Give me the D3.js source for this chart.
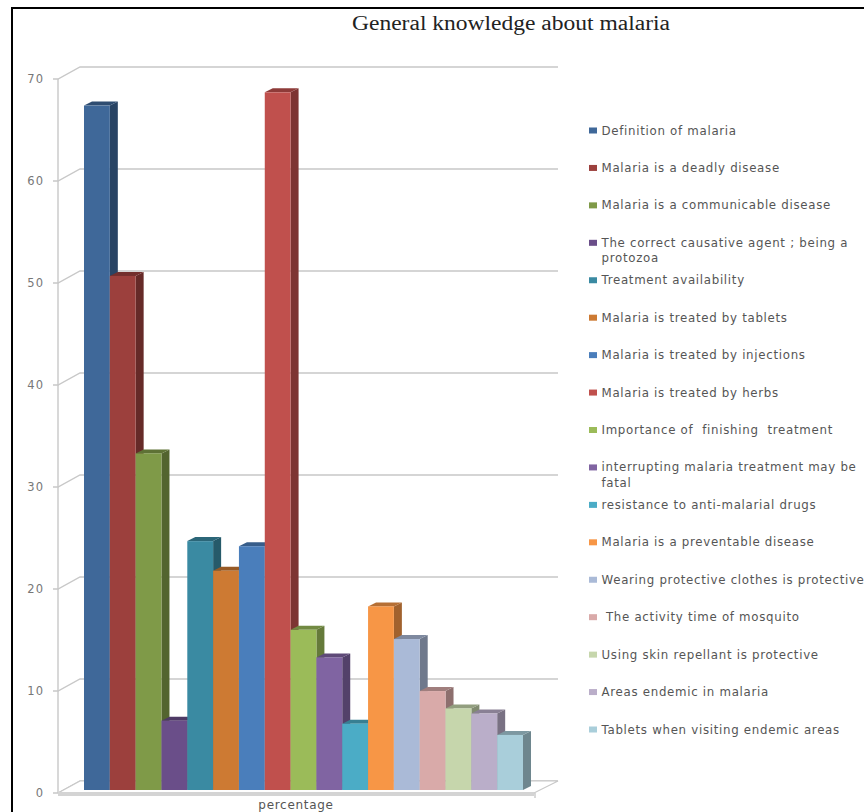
<!DOCTYPE html>
<html>
<head>
<meta charset="utf-8">
<script src="https://cdn.jsdelivr.net/npm/d3@7/dist/d3.min.js"></script>
<style>
  html, body { margin: 0; padding: 0; background: #fff; }
  svg { display: block; }
  .legend-label, .axis-name { font-family: "DejaVu Sans", sans-serif; fill: #555; letter-spacing: 0.7px; }
  .tick-label { font-family: "DejaVu Sans", sans-serif; fill: #777; letter-spacing: 1px; }
</style>
</head>
<body>
<svg id="chart" width="864" height="812"></svg>
<script>
// General knowledge about malaria: one group of 3D-styled columns
const chartTitle = "General knowledge about malaria";
const axisName = "percentage";
const categories = [
  "Definition of malaria",
  "Malaria is a deadly disease",
  "Malaria is a communicable disease",
  "The correct causative agent ; being a|protozoa",
  "Treatment availability",
  "Malaria is treated by tablets",
  "Malaria is treated by injections",
  "Malaria is treated by herbs",
  "Importance of  finishing  treatment",
  "interrupting malaria treatment may be|fatal",
  "resistance to anti-malarial drugs",
  "Malaria is a preventable disease",
  "Wearing protective clothes is protective",
  " The activity time of mosquito",
  "Using skin repellant is protective",
  "Areas endemic in malaria",
  "Tablets when visiting endemic areas"
];
const percentages = [67.1, 50.4, 33.0, 6.8, 24.4, 21.5, 23.9, 68.4, 15.7, 13.0, 6.5, 18.0, 14.8, 9.7, 8.0, 7.5, 5.4];
const yTicks = [0, 10, 20, 30, 40, 50, 60, 70];
const palette = ["#3f6899", "#9c403d", "#7f9a48", "#6a4e89", "#3a8aa2", "#cd7a33", "#4a7ebb", "#c0504d",
                 "#9bbb59", "#8064a2", "#4bacc6", "#f79646", "#aabad7", "#d9aaa9", "#c6d6ac", "#baaec9", "#a9ceda"];

const svg = d3.select("#chart");
const x0 = 58, x1 = 536, frontBase = 793, frontTop = 79;
const dx = 22, dy = -12;         // depth of the chart box
const barDx = 8, barDy = -4;     // depth of each column

const y = d3.scaleLinear().domain([0, 70]).range([frontBase, frontTop]);
const x = d3.scaleBand().domain(d3.range(categories.length)).range([84, 523]).paddingInner(0);
const barBase = y(0) - 3;
const barY = v => barBase - (y(0) - y(v));

// Picture frame
svg.append("path").attr("d", "M12,812V8H864").attr("fill", "none").attr("stroke", "#000").attr("stroke-width", 2);

// Title, set wide across its 318px run
svg.append("text").attr("x", 352).attr("y", 30)
  .attr("textLength", 318).attr("lengthAdjust", "spacingAndGlyphs")
  .attr("font-family", "'Liberation Serif', serif").attr("font-size", 20).attr("fill", "#222").text(chartTitle);

// Back-wall gridlines with their diagonal side-wall returns
const grid = svg.append("g").attr("stroke", "#c8c8c8").attr("fill", "none").attr("stroke-width", 1.4);
yTicks.forEach(t => {
  grid.append("path").attr("d", `M${x0 - 5},${y(t)}H${x0}L${x0 + dx},${y(t) + dy}H${x1 + dx}`);
});
grid.append("line").attr("x1", x0).attr("x2", x0).attr("y1", y(0)).attr("y2", y(70));

// Floor
svg.append("path")
  .attr("d", `M${x0},${y(0)}H${x1 - 2}L${x1 + dx},${y(0) + dy}H${x0 + dx}Z`)
  .attr("fill", "#fff").attr("stroke", "#c8c8c8").attr("stroke-width", 1.2);
svg.append("line").attr("x1", x0).attr("x2", x1 - 2).attr("y1", y(0) + 1).attr("y2", y(0) + 1)
  .attr("stroke", "#d4d4d4").attr("stroke-width", 4);
svg.append("line").attr("x1", x1 - 1).attr("x2", x1 - 1).attr("y1", y(0)).attr("y2", y(0) + 5)
  .attr("stroke", "#c0c0c0").attr("stroke-width", 1.2);

// Value labels
svg.append("g").selectAll("text").data(yTicks).join("text")
  .attr("class", "tick-label").attr("x", 44).attr("y", d => y(d) + 4)
  .attr("text-anchor", "end").attr("font-size", 11.5).text(d => d);

// Columns: side face, top face, then front face, left to right
const bars = svg.append("g").selectAll("g").data(percentages).join("g");
bars.append("path")
  .attr("d", (d, i) => {
    const r = x(i) + x.bandwidth(), t = barY(d);
    return `M${r},${t}l${barDx},${barDy}V${barBase + barDy}l${-barDx},${-barDy}Z`;
  })
  .attr("fill", (d, i) => d3.color(palette[i]).darker(1.2));
bars.append("path")
  .attr("d", (d, i) => {
    const l = x(i), r = l + x.bandwidth(), t = barY(d);
    return `M${l},${t}l${barDx},${barDy}H${r + barDx}L${r},${t}Z`;
  })
  .attr("fill", (d, i) => d3.color(palette[i]).darker(0.85));
bars.append("rect")
  .attr("x", (d, i) => x(i)).attr("width", x.bandwidth())
  .attr("y", d => barY(d)).attr("height", d => barBase - barY(d))
  .attr("fill", (d, i) => palette[i]);

// Axis name under the floor
svg.append("text").attr("class", "axis-name").attr("x", 296).attr("y", 809)
  .attr("text-anchor", "middle").attr("font-size", 12).text(axisName);

// Legend
const legendY = d3.scaleLinear().domain([0, 16]).range([130.5, 729.5]);
const legend = svg.append("g").selectAll("g").data(categories).join("g")
  .attr("transform", (d, i) => `translate(0,${legendY(i)})`);
legend.append("rect").attr("x", 589).attr("y", -3).attr("width", 8).attr("height", 6)
  .attr("fill", (d, i) => palette[i]);
legend.append("text").attr("class", "legend-label").attr("font-size", 11.8)
  .attr("x", 601.5).attr("y", 4).style("white-space", "pre")
  .selectAll("tspan").data(d => d.split("|")).join("tspan")
  .attr("x", 601.5).attr("dy", (d, i) => i ? 15.5 : 0).text(d => d);
</script>
</body>
</html>
